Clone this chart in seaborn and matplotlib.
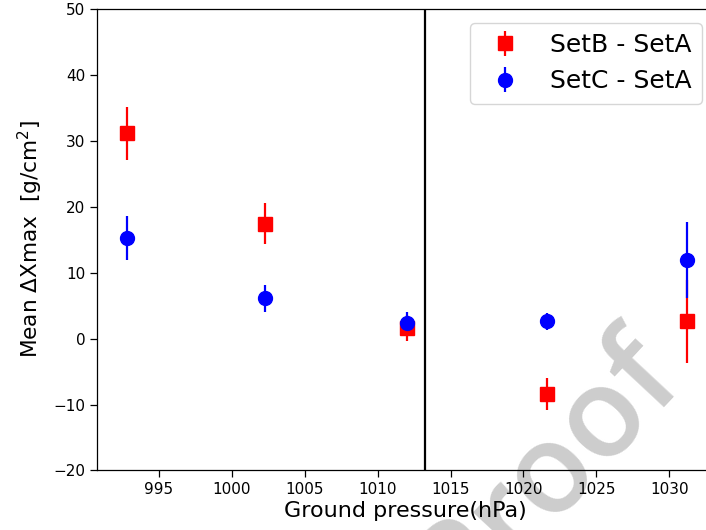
import matplotlib
matplotlib.use("Agg")
import matplotlib.pyplot as plt
import seaborn as sns
import numpy as np

# Ground pressure bins (hPa)
pressure_b = [992.8, 1002.3, 1012.0, 1021.6, 1031.2]
pressure_c = [992.8, 1002.3, 1012.0, 1021.6, 1031.2]

# Mean Xmax differences and their uncertainties (g/cm^2)
diff_b = [31.1, 17.4, 1.6, -8.4, 2.6]
err_b = [4.0, 3.1, 2.0, 2.45, 6.3]
diff_c = [15.2, 6.1, 2.4, 2.6, 11.9]
err_c = [3.35, 2.05, 1.6, 1.3, 5.7]

series_labels = ["SetB - SetA", "SetC - SetA"]
standard_pressure = 1013.25
x_ticks = [995, 1000, 1005, 1010, 1015, 1020, 1025, 1030]
y_ticks = [-20, -10, 0, 10, 20, 30, 40, 50]

sns.set_theme(style="ticks", rc={
    "text.color": "black",
    "axes.labelcolor": "black",
    "axes.edgecolor": "black",
    "xtick.color": "black",
    "ytick.color": "black",
    "axes.linewidth": 0.9,
})
plt.rcParams["font.family"] = ["DejaVu Sans"]

fig = plt.figure(figsize=(7.06, 5.30), dpi=100)
ax = fig.add_axes([0.1374, 0.1123, 0.8725, 0.8713])
ax.set_facecolor("none")

ax.errorbar(pressure_b, diff_b, yerr=err_b, fmt="s", color="red",
            ms=10, elinewidth=1.6, capsize=0, label=series_labels[0])
ax.errorbar(pressure_c, diff_c, yerr=err_c, fmt="o", color="blue",
            ms=10, elinewidth=1.6, capsize=0, label=series_labels[1])

ax.axvline(standard_pressure, color="black", lw=1.6)

ax.set_xlim(990.75, 1033.0)
ax.set_ylim(-20, 50)
ax.set_xticks(x_ticks)
ax.set_yticks(y_ticks)
ax.tick_params(axis="both", labelsize=11, length=5, width=0.9, direction="out")
ax.spines["right"].set_visible(False)

ax.set_xlabel("Ground pressure(hPa)", fontsize=16, labelpad=3)
ax.set_ylabel(r"Mean $\Delta$Xmax  [g/cm$^2$]", fontsize=15.6, labelpad=6)

leg = ax.legend(loc="upper right", bbox_to_anchor=(702 / 706, 1 - 23 / 530),
                bbox_transform=fig.transFigure, borderaxespad=0,
                fontsize=18, frameon=True, fancybox=True, framealpha=0.8,
                edgecolor="#cccccc")

fig.text(572 / 706, 1 - 494 / 530, "Proof", fontsize=90, color="#cdcdcd",
         family="Open Sans", fontweight="semibold",
         rotation=47, rotation_mode="anchor", ha="center", va="baseline",
         zorder=-1)

fig.savefig("out.png", dpi=100)
